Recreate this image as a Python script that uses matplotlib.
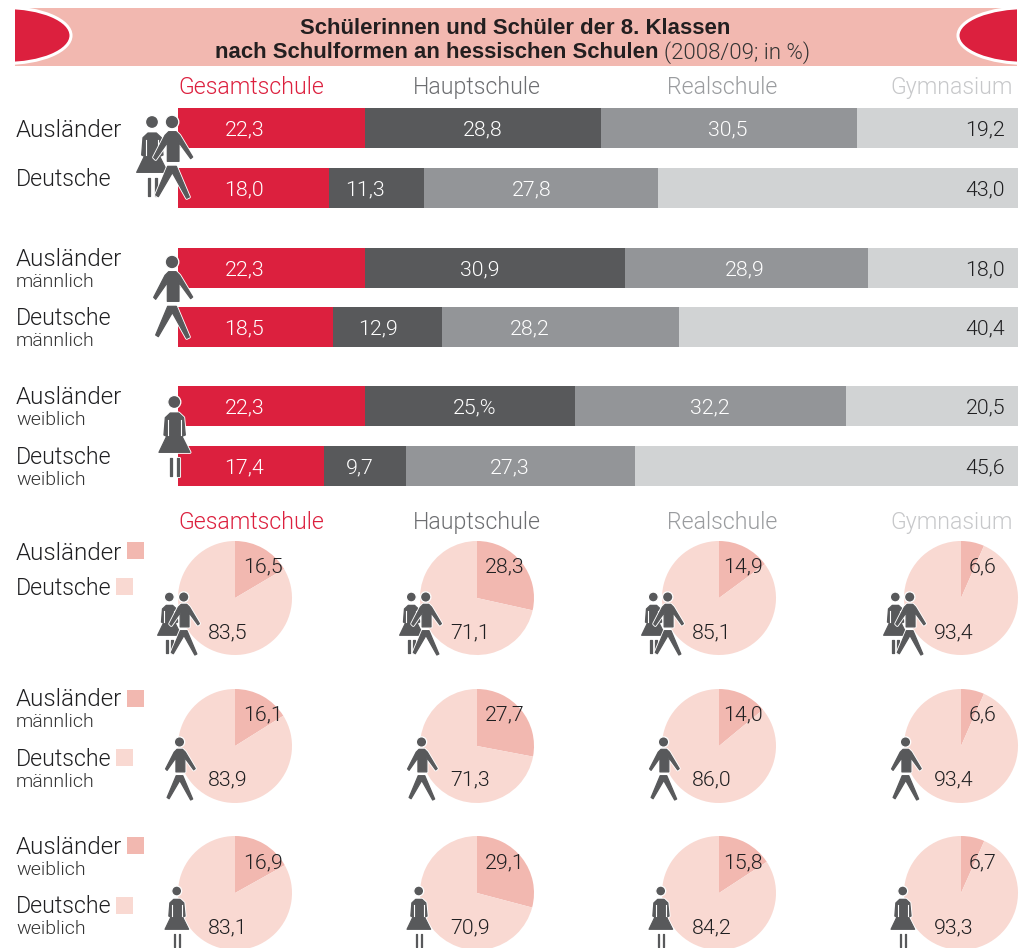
import matplotlib
matplotlib.use("Agg")
import matplotlib.pyplot as plt
from matplotlib.patches import Ellipse, Polygon, Rectangle, Circle

plt.rcParams['font.family'] = ['Liberation Sans', 'DejaVu Sans']

W, H = 1031, 948

# ---------- data ----------
schools = ["Gesamtschule", "Hauptschule", "Realschule", "Gymnasium"]
bar_values = [
    [22.3, 28.0, 30.5, 19.2],
    [18.0, 11.3, 27.8, 42.9],
    [22.3, 30.9, 28.9, 17.9],
    [18.5, 12.9, 28.2, 40.4],
    [22.3, 25.0, 32.2, 20.5],
    [17.4, 9.7, 27.3, 45.6],
]
bar_labels = [
    ["22,3", "28,8", "30,5", "19,2"],
    ["18,0", "11,3", "27,8", "43,0"],
    ["22,3", "30,9", "28,9", "18,0"],
    ["18,5", "12,9", "28,2", "40,4"],
    ["22,3", "25,%", "32,2", "20,5"],
    ["17,4", "9,7", "27,3", "45,6"],
]
pie_auslaender = [
    [16.5, 28.3, 14.9, 6.6],
    [16.1, 27.7, 14.0, 6.6],
    [16.9, 29.1, 15.8, 6.7],
]
pie_deutsche = [
    [83.5, 71.1, 85.1, 93.4],
    [83.9, 71.3, 86.0, 93.4],
    [83.1, 70.9, 84.2, 93.3],
]

# ---------- styles / layout ----------
RED, DARK, MID, LIGHT = "#DC203E", "#58595B", "#939598", "#D1D3D4"
BANNER, PIE_A, PIE_D = "#F2B8B0", "#F2B8B0", "#F9D9D2"
INK = "#1F1F21"
header_colors = [RED, "#6D6E71", "#9A9C9F", "#C7C8CA"]
bar_colors = [RED, DARK, MID, LIGHT]
bar_tops = [108, 168, 248, 307, 386, 446]
BAR_H = 40
bar_label_x = [
    [245, 483, 728],
    [244, 365, 532],
    [245, 480, 745],
    [244, 378, 530],
    [245, 475, 710],
    [244, 360, 510],
]
pie_cx = [235, 477, 719, 961]
pie_cy = [598, 746, 893]
PIE_R = 57
small_lab_x = [263, 505, 743, 983]
small_lab_y = [565, 713, 861]
large_lab_x = [228, 470, 712, 954]
large_lab_y = [631, 778, 926]
header_x = [178, 413, 667, 890]

fig = plt.figure(figsize=(W / 100, H / 100), dpi=100, facecolor="white")


def px_axes(x0, y0, x1, y1):
    return fig.add_axes([x0 / W, 1 - y1 / H, (x1 - x0) / W, (y1 - y0) / H])


# ---------- bars ----------
axb = px_axes(178, 100, 1018, 500)
axb.set_xlim(0, 100)
axb.set_ylim(500, 100)
axb.axis("off")
for top, vals in zip(bar_tops, bar_values):
    left = 0.0
    for v, c in zip(vals, bar_colors):
        axb.barh(top + BAR_H / 2, v, left=left, height=BAR_H, color=c, linewidth=0)
        left += v

# ---------- pies ----------
for r, cy in enumerate(pie_cy):
    for c, cx in enumerate(pie_cx):
        ax = px_axes(cx - PIE_R, cy - PIE_R, cx + PIE_R, cy + PIE_R)
        ax.pie([pie_auslaender[r][c], pie_deutsche[r][c]], colors=[PIE_A, PIE_D],
               startangle=90, counterclock=False, radius=1.0,
               wedgeprops={"linewidth": 0})
        ax.set_xlim(-1, 1)
        ax.set_ylim(-1, 1)
        ax.set_aspect("equal")
        ax.patch.set_alpha(0)

# ---------- overlay in pixel coordinates ----------
ov = px_axes(0, 0, W, H)
ov.set_xlim(0, W)
ov.set_ylim(H, 0)
ov.axis("off")
ov.patch.set_alpha(0)

# banner
ov.add_patch(Rectangle((15, 8), 1002, 58, color=BANNER, lw=0, zorder=1))
for cx, rx in ((5, 66), (1027, 69)):
    e = Ellipse((cx, 35.5), 2 * rx, 56, facecolor=RED, edgecolor="white", lw=2.2, zorder=2)
    ov.add_patch(e)
    e.set_clip_path(Rectangle((15, 8), 1002, 58, transform=ov.transData))


def T(x, y, s, size=17.0, color=INK, ha="left", weight=300, family="Roboto"):
    ov.text(x, y, s, fontsize=size, color=color, ha=ha, va="center_baseline",
            fontweight=weight, family=[family, "Liberation Sans"], zorder=6)


T(515, 26, "Schülerinnen und Schüler der 8. Klassen", 15.9, "#231F20", "center", "bold", "Liberation Sans")
T(215, 50, "nach Schulformen an hessischen Schulen", 15.9, "#231F20", "left", "bold", "Liberation Sans")
T(664, 50, "(2008/09; in %)", 16.0, "#333333")

for hy in (85, 520):
    for x, s, col in zip(header_x, schools, header_colors):
        T(x, hy, s, 16.7, col)

A, D = "Ausländer", "Deutsche"
SIZE_A, SIZE_D = 17.4, 16.7
# row labels of bars
T(16, 128, A, SIZE_A); T(16, 177, D, SIZE_D)
for y, s, z in ((257, A, SIZE_A), (316, D, SIZE_D), (395, A, SIZE_A), (455, D, SIZE_D)):
    T(16, y, s, z)
for y, s in ((280, "männlich"), (339, "männlich"), (418, "weiblich"), (478, "weiblich")):
    T(16, y, s, 14, "#333333")

# bar values
for top, labs, xs in zip(bar_tops, bar_labels, bar_label_x):
    y = top + BAR_H / 2 - 0.5
    for lab, x in zip(labs[:3], xs):
        T(x, y, lab, 15.4, "white", "center")
    T(1005, y, labs[3], 15.4, INK, "right")

# legend column beside pies
for y, s, z in ((551, A, SIZE_A), (586, D, SIZE_D), (697, A, SIZE_A), (757, D, SIZE_D),
                (845, A, SIZE_A), (904, D, SIZE_D)):
    T(16, y, s, z)
for y, s in ((720, "männlich"), (780, "männlich"), (868, "weiblich"), (927, "weiblich")):
    T(16, y, s, 14, "#333333")
for x, y, col in ((127, 542, PIE_A), (116, 578, PIE_D), (127, 690, PIE_A), (116, 749, PIE_D),
                  (127, 837, PIE_A), (116, 897, PIE_D)):
    ov.add_patch(Rectangle((x, y), 17, 17, color=col, lw=0))

# pie values
for r in range(3):
    for c in range(4):
        T(small_lab_x[c], small_lab_y[r], f"{pie_auslaender[r][c]:.1f}".replace(".", ","),
          15.4, INK, "center")
        T(large_lab_x[c], large_lab_y[r], f"{pie_deutsche[r][c]:.1f}".replace(".", ","),
          15.4, INK, "center")


# ---------- pictograms (outline shapes relative to the head centre) ----------
MALE_BODY = [(-10, 29), (12, 29), (23, 40), (62, 105), (56, 110), (21, 62), (21, 118), (-14, 118),
             (-14, 62), (-49, 112), (-55, 106), (-21, 40)]
MALE_LEGS = [(-13, 133), (13, 133), (52, 225), (44, 229), (1, 152), (-41, 224), (-49, 219)]
FEMALE_BODY = [(-12, 33), (13, 33), (28, 47), (33, 99), (23, 103), (47, 151), (-46, 151),
               (-23, 103), (-31, 99), (-27, 47)]
FEMALE_LEG1 = [(-12, 168), (-6, 168), (-6, 222), (-12, 222)]
FEMALE_LEG2 = [(8, 168), (14, 168), (14, 222), (8, 222)]


def shape(pts, hx, hy, s, z):
    xy = [(hx + px * s / 3, hy + py * s / 3) for px, py in pts]
    ov.add_patch(Polygon(xy, closed=True, facecolor="white", edgecolor="white", lw=2.2,
                         joinstyle="round", zorder=z))
    ov.add_patch(Polygon(xy, closed=True, facecolor=DARK, edgecolor=DARK, lw=0.9,
                         joinstyle="round", zorder=z + 0.05))


def head(hx, hy, r, z):
    ov.add_patch(Circle((hx, hy), r, facecolor=DARK, edgecolor="white", lw=0.9, zorder=z + 0.05))


def male(hx, hy, s=1.0, z=4):
    head(hx, hy, 6.8 * s, z)
    shape(MALE_BODY, hx, hy, s, z)
    shape(MALE_LEGS, hx, hy, s, z)


def female(hx, hy, s=1.0, z=3):
    head(hx, hy, 6.5 * s, z)
    shape(FEMALE_BODY, hx, hy, s, z)
    shape(FEMALE_LEG1, hx, hy, s, z)
    shape(FEMALE_LEG2, hx, hy, s, z)
    for sx in (-19, 19):
        ov.plot([hx + sx * s / 3, hx + sx * s / 3], [hy + 55 * s / 3, hy + 98 * s / 3],
                color="white", lw=0.8, zorder=z + 0.1)


female(152, 122)
male(172, 122)
male(172, 262)
female(174.3, 402)
ICON = 0.76
for dx in (0, 242, 484, 726):
    female(169.3 + dx, 597, ICON)
    male(183.7 + dx, 597, ICON)
    male(179.5 + dx, 742, ICON)
    female(176.7 + dx, 891, ICON)

fig.savefig("out.png", dpi=100)
